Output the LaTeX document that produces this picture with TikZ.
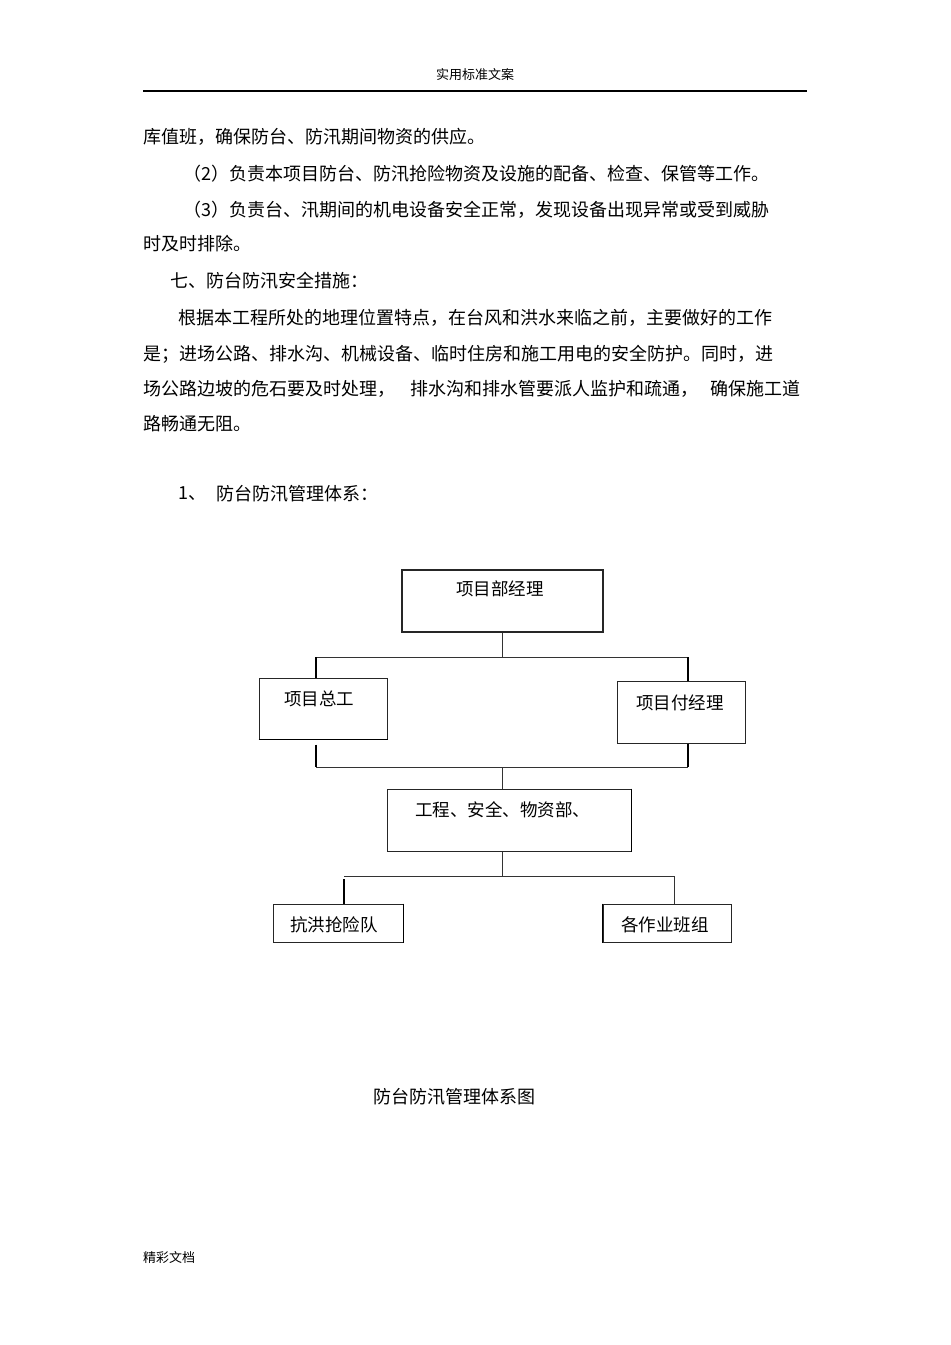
\documentclass[tikz,border=0pt]{standalone}
\usepackage{fontspec}
\setmainfont{Noto Sans CJK SC}
\newfontfamily\cjk{Noto Sans CJK SC}
\XeTeXlinebreaklocale "zh"
\XeTeXlinebreakskip=0pt plus 3pt minus 0.6pt
\newcommand\fitline[2]{\hbox to #1{#2}}
\tikzset{
  bodytext/.style={anchor=west, inner sep=0pt, font=\cjk\fontsize{18bp}{18bp}\selectfont},
  smalltext/.style={inner sep=0pt, font=\cjk\fontsize{13bp}{13bp}\selectfont},
  boxtext/.style={inner sep=0pt, font=\cjk\fontsize{17.5bp}{17.5bp}\selectfont},
  orgbox/.style={draw=black!85, line width=1bp, inner sep=0pt, fill=white},
  thinline/.style={draw=black!80, line width=1bp},
  thickline/.style={draw=black, line width=1.9bp},
}
\begin{document}
\begin{tikzpicture}[x=1bp,y=-1bp]
\fill[white] (0,0) rectangle (950,1345);
\useasboundingbox (0,0) rectangle (950,1345);

% header and footer
\node[smalltext] (hdr) at (475,75) {实用标准文案};
\coordinate (rulel) at (143,91);
\coordinate (ruler) at (807,91);
\draw[line width=1.1bp] (rulel) -- (ruler);
\node[smalltext, anchor=west] (ftr) at (143,1257) {精彩文档};

% body text
\node[bodytext] (l1) at (143,137) {库值班，确保防台、防汛期间物资的供应。};
\node[bodytext] (l2) at (183,174) {\fitline{580bp}{（2）负责本项目防台、防汛抢险物资及设施的配备、检查、保管等工作。}};
\node[bodytext] (l3) at (183,210) {\fitline{578bp}{（3）负责台、汛期间的机电设备安全正常，发现设备出现异常或受到威胁}};
\node[bodytext] (l4) at (143,244) {时及时排除。};
\node[bodytext] (l5) at (170,281) {七、防台防汛安全措施：};
\node[bodytext] (l6) at (178,318) {\fitline{590bp}{根据本工程所处的地理位置特点，在台风和洪水来临之前，主要做好的工作}};
\node[bodytext] (l7) at (143,354) {\fitline{627bp}{是；进场公路、排水沟、机械设备、临时住房和施工用电的安全防护。同时，进}};
\node[bodytext] (l8a) at (143,389) {场公路边坡的危石要及时处理，};
\node[bodytext] (l8b) at (410,389) {排水沟和排水管要派人监护和疏通，};
\node[bodytext] (l8c) at (710,389) {确保施工道};
\node[bodytext] (l9) at (143,424) {路畅通无阻。};
\node[bodytext] (n1) at (178,494) {1、};
\node[bodytext] (n1t) at (216,494) {防台防汛管理体系：};

% boxes
\node[orgbox, line width=1.7bp, minimum width=201bp, minimum height=62bp] (b1) at (502.5,601) {};
\node[orgbox, minimum width=128bp, minimum height=61bp] (b2) at (323,708.5) {};
\node[orgbox, minimum width=128bp, minimum height=62bp] (b3) at (681,712) {};
\node[orgbox, minimum width=244bp, minimum height=62bp] (b4) at (509,820) {};
\node[orgbox, minimum width=130bp, minimum height=38bp] (b5) at (338,923) {};
\node[orgbox, minimum width=128bp, minimum height=38bp] (b6) at (667,923) {};

% heavier sides
\draw[thickline] (b2.south west) -- (b2.south east);
\draw[thickline] (b4.north east) -- (b4.south east);
\draw[thickline] (b5.north east) -- (b5.south east);
\draw[thickline] (b6.north west) -- (b6.south west);

% box texts
\node[boxtext] (t1) at (500,589) {项目部经理};
\node[boxtext] (t2) at (319,699) {项目总工};
\node[boxtext] (t3) at (680,703) {项目付经理};
\node[boxtext, anchor=west] (t4) at (415,810) {工程、安全、物资部、};
\node[boxtext] (t5) at (334,925) {抗洪抢险队};
\node[boxtext] (t6) at (665,925) {各作业班组};

% connector junctions
\coordinate (h1m) at (502.5,657);
\coordinate (h1l) at (316,657);
\coordinate (h1r) at (688,657);
\coordinate (h2m) at (502.5,767);
\coordinate (h2l) at (316,767);
\coordinate (h2r) at (688,767);
\coordinate (h3m) at (502.5,876);
\coordinate (h3l) at (344,876);
\coordinate (h3r) at (674,876);

% level 1
\draw[thinline] (b1.south) -- (h1m);
\draw[thinline] (h1l) -- (h1r);
\draw[thickline] (h1l) -- (h1l |- b2.north);
\draw[thickline] (h1r) -- (h1r |- b3.north);
% level 2
\draw[thickline] ([yshift=-5bp]h2l |- b2.south) -- (h2l);
\draw[thickline] (h2r |- b3.south) -- (h2r);
\draw[thinline] (h2l) -- (h2r);
\draw[thinline] (h2m) -- (h2m |- b4.north);
% level 3
\draw[thinline] (h3m |- b4.south) -- (h3m);
\draw[thinline] (h3l) -- (h3r);
\draw[thickline] ([yshift=-3bp]h3l) -- (h3l |- b5.north);
\draw[thinline] (h3r) -- (h3r |- b6.north);

% caption
\node[bodytext, anchor=center] (cap) at (454,1097) {防台防汛管理体系图};
\end{tikzpicture}
\end{document}
